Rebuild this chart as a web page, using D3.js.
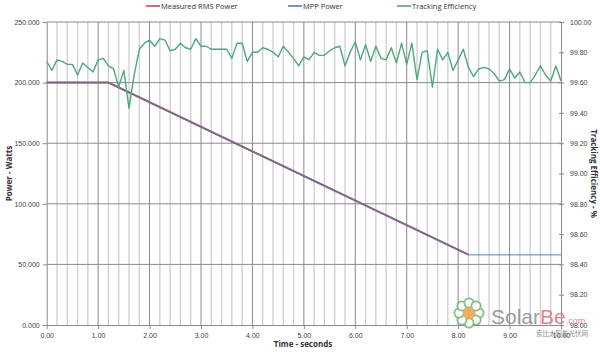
<!DOCTYPE html>
<html>
<head>
<meta charset="utf-8">
<script src="https://cdn.jsdelivr.net/npm/d3@7"></script>
<style>
  html, body { margin: 0; padding: 0; background: #fff; }
  svg { display: block; font-family: "Open Sans", "Liberation Sans", sans-serif; }
</style>
</head>
<body>
<svg id="chart" width="600" height="352"></svg>
<script>
// data ---------------------------------------------------------------
var powerTime = [0, 1.2, 8.2, 10];
var measuredPower = [200000, 200000, 58000, 58000];
var mppPower = [200000, 200000, 58000, 58000];

var effStep = 0.1; // one sample every 0.1 s, from 0.00 to 10.00
var efficiency = [
  99.74, 99.68, 99.75, 99.74, 99.72, 99.72, 99.65, 99.73, 99.70, 99.67,
  99.75, 99.76, 99.71, 99.69, 99.57, 99.68, 99.43, 99.65, 99.82, 99.86,
  99.88, 99.84, 99.89, 99.88, 99.81, 99.82, 99.86, 99.83, 99.82, 99.89,
  99.84, 99.84, 99.82, 99.82, 99.82, 99.82, 99.76, 99.86, 99.86, 99.74,
  99.80, 99.80, 99.83, 99.82, 99.80, 99.77, 99.84, 99.80, 99.76, 99.71,
  99.77, 99.75, 99.80, 99.78, 99.78, 99.81, 99.83, 99.84, 99.71, 99.80,
  99.87, 99.75, 99.85, 99.74, 99.84, 99.76, 99.75, 99.83, 99.73, 99.86,
  99.72, 99.86, 99.62, 99.80, 99.81, 99.57, 99.82, 99.75, 99.80, 99.68,
  99.75, 99.82, 99.70, 99.64, 99.69, 99.70, 99.69, 99.66, 99.61, 99.62,
  99.69, 99.63, 99.67, 99.60, 99.60, 99.65, 99.71, 99.65, 99.61, 99.71,
  99.61
];

var powerTicks = [0, 50000, 100000, 150000, 200000, 250000];
var powerTickLabels = ["0.000", "50.000", "100.000", "150.000", "200.000", "250.000"];
var effTicks = [98.0, 98.2, 98.4, 98.6, 98.8, 99.0, 99.2, 99.4, 99.6, 99.8, 100.0];
var timeTicks = [0, 1, 2, 3, 4, 5, 6, 7, 8, 9, 10];

var legendNames = ["Measured RMS Power", "MPP Power", "Tracking Efficiency"];
var colors = ["#b5524f", "#4a7ebb", "#4fa877"];

// layout -------------------------------------------------------------
var svg = d3.select("#chart");
var plotLeft = 46.7, plotRight = 561, plotTop = 22, plotBottom = 325;

var x = d3.scaleLinear().domain([0, 10]).range([plotLeft, plotRight]);
var yL = d3.scaleLinear().domain([0, 250000]).range([plotBottom, plotTop]);
var yR = d3.scaleLinear().domain([98, 100]).range([plotBottom, plotTop]);

// gridlines ----------------------------------------------------------
var minor = d3.range(0, 10.001, 0.2).filter(t => Math.abs(t - Math.round(t)) > 0.01);
svg.append("g").selectAll("line").data(minor).enter().append("line")
  .attr("x1", d => x(d)).attr("x2", d => x(d))
  .attr("y1", plotTop).attr("y2", plotBottom)
  .attr("stroke", "#cfcfcf").attr("stroke-width", 1.3);

svg.append("g").selectAll("line").data(timeTicks.slice(1, -1)).enter().append("line")
  .attr("x1", d => x(d)).attr("x2", d => x(d))
  .attr("y1", plotTop).attr("y2", plotBottom)
  .attr("stroke", "#8a8a8a").attr("stroke-width", 1);

svg.append("g").selectAll("line").data(powerTicks.slice(1)).enter().append("line")
  .attr("x1", plotLeft).attr("x2", plotRight)
  .attr("y1", d => yL(d)).attr("y2", d => yL(d))
  .attr("stroke", "#8a8a8a").attr("stroke-width", 1);

// axes ---------------------------------------------------------------
function styleAxis(g) {
  g.select(".domain").attr("stroke", "#8a8a8a");
  g.selectAll(".tick line").attr("stroke", "#8a8a8a");
  g.selectAll(".tick text").attr("fill", "#404040").attr("font-size", "7px");
}

svg.append("g")
  .attr("transform", `translate(0,${plotBottom})`)
  .call(d3.axisBottom(x).tickValues(timeTicks).tickFormat(d3.format(".2f")).tickSizeInner(4).tickSizeOuter(0).tickPadding(4))
  .call(styleAxis);

svg.append("g")
  .attr("transform", `translate(${plotLeft},0)`)
  .call(d3.axisLeft(yL).tickValues(powerTicks).tickFormat((d, i) => powerTickLabels[i]).tickSizeInner(4).tickSizeOuter(0).tickPadding(3))
  .call(styleAxis);

svg.append("g")
  .attr("transform", `translate(${plotRight},0)`)
  .call(d3.axisRight(yR).tickValues(effTicks).tickFormat(d3.format(".2f")).tickSizeInner(3).tickSizeOuter(0).tickPadding(6))
  .call(styleAxis)
  .selectAll(".tick line").attr("x1", -2);

// axis titles
svg.append("text")
  .attr("x", 303).attr("y", 347)
  .attr("text-anchor", "middle")
  .attr("font-size", "8px").attr("font-weight", "bold").attr("fill", "#333")
  .text("Time - seconds");

svg.append("text")
  .attr("transform", `translate(12,${(plotTop + plotBottom) / 2}) rotate(-90)`)
  .attr("text-anchor", "middle")
  .attr("font-size", "8px").attr("font-weight", "bold").attr("fill", "#333")
  .text("Power - Watts");

svg.append("text")
  .attr("transform", `translate(591,${(plotTop + plotBottom) / 2}) rotate(90)`)
  .attr("text-anchor", "middle")
  .attr("font-size", "8px").attr("font-weight", "bold").attr("fill", "#333")
  .text("Tracking Efficiency - %");

// series -------------------------------------------------------------
var powerLine = d3.line().x((d, i) => x(powerTime[i])).y(d => yL(d));

svg.append("path")
  .datum(measuredPower.slice(0, 3))
  .attr("d", powerLine)
  .attr("fill", "none").attr("stroke", colors[0]).attr("stroke-width", 2);

svg.append("path")
  .datum(mppPower)
  .attr("d", powerLine)
  .attr("fill", "none").attr("stroke", colors[1]).attr("stroke-width", 1.6)
  .attr("stroke-opacity", 0.65);

var effLine = d3.line().x((d, i) => x(i * effStep)).y(d => yR(d));

svg.append("path")
  .datum(efficiency)
  .attr("d", effLine)
  .attr("fill", "none").attr("stroke", colors[2]).attr("stroke-width", 1.4)
  .attr("stroke-linejoin", "round");

// legend -------------------------------------------------------------
var legendX = [146, 288, 397];
var lg = svg.append("g").selectAll("g").data(legendNames).enter().append("g")
  .attr("transform", (d, i) => `translate(${legendX[i]},6)`);
lg.append("line")
  .attr("x1", 0).attr("x2", 14).attr("y1", 0).attr("y2", 0)
  .attr("stroke", (d, i) => colors[i]).attr("stroke-width", 1.6);
lg.append("text")
  .attr("x", 15).attr("y", 2.6)
  .attr("font-size", "7.5px").attr("fill", "#333")
  .text(d => d);

// watermark ----------------------------------------------------------
var wm = svg.append("g").attr("opacity", 0.85);
var petals = d3.range(8);
wm.selectAll("circle.petal").data(petals).enter().append("circle")
  .attr("cx", d => 469 + 10 * Math.cos(d * Math.PI / 4))
  .attr("cy", d => 313 + 10 * Math.sin(d * Math.PI / 4))
  .attr("r", 4.6)
  .attr("fill", "#fff").attr("stroke", "#6cb86a").attr("stroke-width", 1.8);
wm.append("circle").attr("cx", 469).attr("cy", 313).attr("r", 6).attr("fill", "#f0a040");
wm.append("text")
  .attr("x", 491).attr("y", 324)
  .attr("font-size", "21px").attr("font-family", "Liberation Sans, sans-serif").attr("fill", "#8c8c8c")
  .text("Solar")
  .append("tspan").attr("fill", "#e0707a").text("Be")
  .append("tspan").attr("font-size", "9px").text(".com");
wm.append("text")
  .attr("x", 588).attr("y", 336)
  .attr("text-anchor", "end")
  .attr("font-size", "6.5px").attr("font-family", "Noto Sans CJK SC").attr("fill", "#777")
  .text("索比太阳能光伏网");
</script>
</body>
</html>
